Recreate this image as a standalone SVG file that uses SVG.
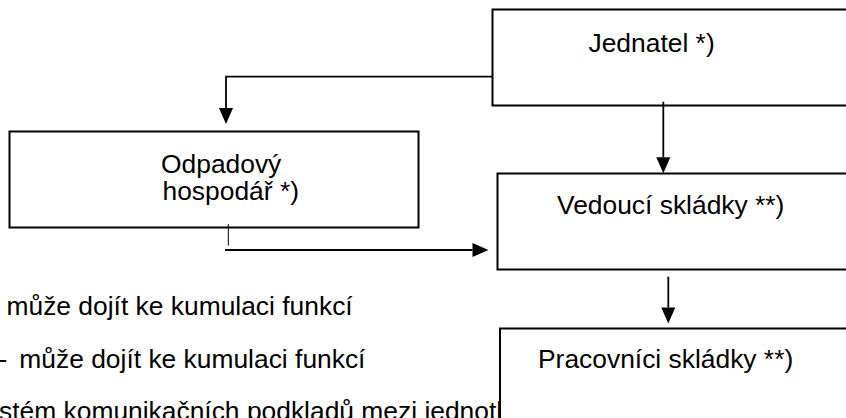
<svg xmlns="http://www.w3.org/2000/svg" width="846" height="418" viewBox="0 0 846 418">
  <style>
    .box { fill: #ffffff; stroke: #000000; stroke-width: 2; }
    .lbl { font-family: "Liberation Sans", Arial, sans-serif; font-size: 26.4px; fill: #000000; }
    .con { fill: none; stroke: #000000; stroke-width: 1.8; }
    .tick { fill: none; stroke: #000000; stroke-width: 1; }
  </style>
  <defs>
    <marker id="arrow" markerUnits="userSpaceOnUse" markerWidth="16" markerHeight="14" refX="0" refY="7" orient="auto" overflow="visible">
      <path d="M0,0 L16,7 L0,14 Z" fill="#000000"/>
    </marker>
  </defs>
  <rect x="0" y="0" width="846" height="418" fill="#ffffff"/>

  <g id="notes" class="lbl">
    <text x="6.5" y="315">může dojít ke kumulaci funkcí</text>
    <text y="368"><tspan x="-1.5">-</tspan><tspan x="19.3">může dojít ke kumulaci funkcí</tspan></text>
    <text x="-1" y="420">stém komunikačních podkladů mezi jednotl</text>
  </g>

  <g id="node-jednatel">
    <rect class="box" x="492.5" y="9.5" width="400" height="96"/>
    <text class="lbl" x="588.5" y="52">Jednatel *)</text>
  </g>
  <g id="node-odpadovy">
    <rect class="box" x="9.5" y="131.5" width="409" height="96"/>
    <text class="lbl" x="161" y="173">Odpadový</text>
    <text class="lbl" x="162.5" y="200">hospodář *)</text>
  </g>
  <g id="node-vedouci">
    <rect class="box" x="497.5" y="173.5" width="400" height="96"/>
    <text class="lbl" x="557" y="214">Vedoucí skládky **)</text>
  </g>
  <g id="node-pracovnici">
    <rect class="box" x="500" y="328.5" width="400" height="200"/>
    <text class="lbl" x="538" y="368">Pracovníci skládky **)</text>
  </g>

  <g id="connectors">
    <path class="con" d="M492,76.7 H226 V108" marker-end="url(#arrow)"/>
    <path class="con" d="M663.3,101.7 V157.3" marker-end="url(#arrow)"/>
    <path class="con" d="M668.3,276.7 V307.5" marker-end="url(#arrow)"/>
    <line class="tick" x1="228.3" y1="224" x2="228.3" y2="245.7"/>
    <path class="con" d="M225,250 H472.5" marker-end="url(#arrow)"/>
  </g>
</svg>
